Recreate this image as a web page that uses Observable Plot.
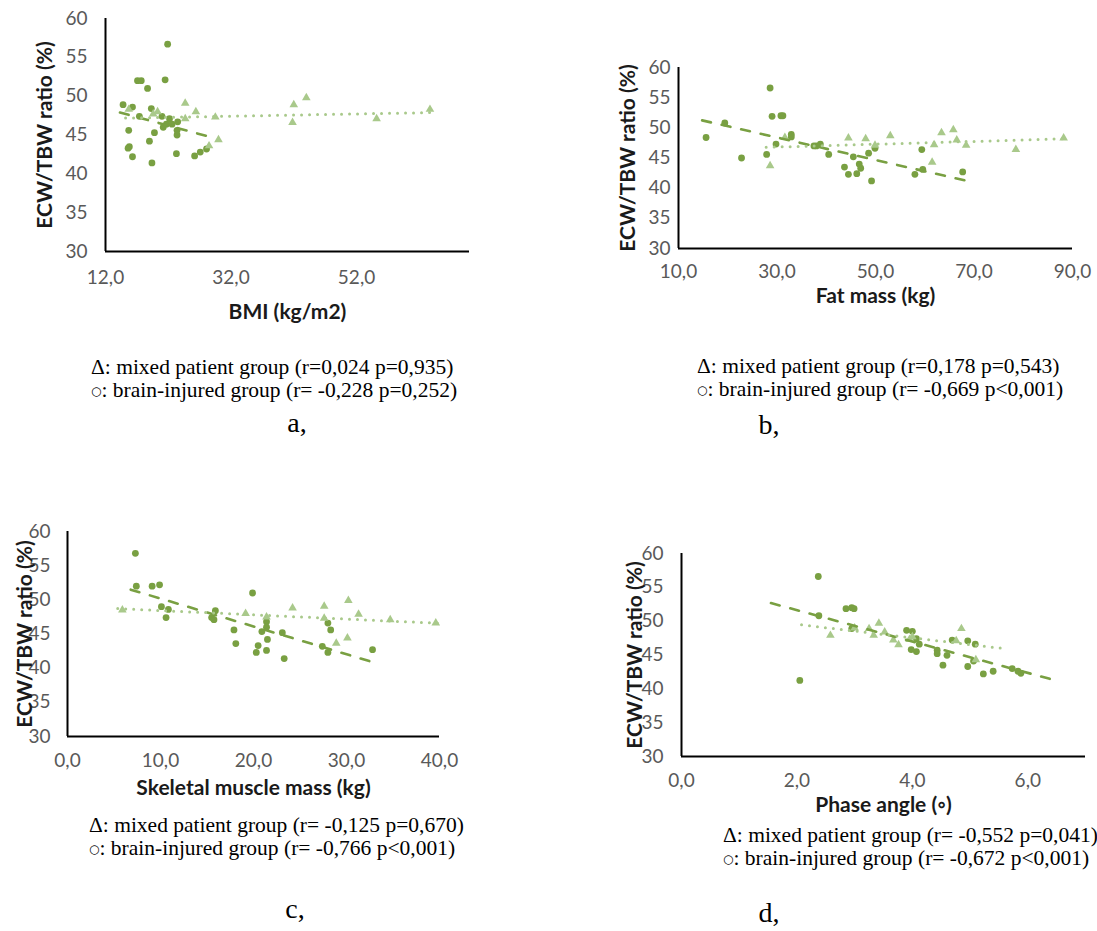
<!DOCTYPE html>
<html><head><meta charset="utf-8">
<script src="https://cdn.jsdelivr.net/npm/d3@7"></script>
<script src="https://cdn.jsdelivr.net/npm/@observablehq/plot@0.6"></script>
<style>
body{margin:0;background:#fff;}
#root{position:relative;width:1097px;height:931px;overflow:hidden;background:#fff;}
.panel{position:absolute;}
.cap{position:absolute;font-family:"Liberation Serif","Times New Roman",serif;font-size:21.5px;line-height:23px;color:#000;white-space:nowrap;}
.circ{font-family:"DejaVu Sans",sans-serif;font-size:12px;position:relative;top:-2px;}
.lab{position:absolute;font-family:"Liberation Serif","Times New Roman",serif;font-size:28px;line-height:1;color:#000;transform:translate(-50%,-50%);}
</style></head><body><div id="root"></div>
<script>
// ---------- data ----------
const yTicks = [30, 35, 40, 45, 50, 55, 60];
const yTitle = "ECW/TBW ratio (%)";

// a: BMI
const aTicks = [12, 32, 52];
const aBrainX = [14.8,16.3,19.3,21.9,21.5,17.1,17.7,18.7,17.4,15.7,15.8,15.6,16.3,19.0,19.8,19.4,21.0,21.2,21.7,22.2,22.6,23.5,23.4,23.4,23.3,26.2,27.1,28.1];
const aBrainY = [48.9,48.6,48.4,56.7,52.1,52.0,52.0,51.0,47.4,45.6,43.5,43.3,42.2,44.2,45.3,41.4,47.4,46.0,46.4,47.1,46.4,46.7,45.6,45.0,42.6,42.3,42.8,43.2];
const aMixedX = [15.7,19.6,20.3,24.7,24.7,26.4,29.5,28.5,30.0,42.0,44.0,41.8,55.2,63.7];
const aMixedY = [48.3,47.7,48.0,49.1,47.1,48.0,47.3,43.6,44.4,48.9,49.8,46.6,47.1,48.3];

// b: Fat mass
const bTicks = [10, 30, 50, 70, 90];
const bBrainX = [15.6,19.4,22.8,28.6,29.0,30.8,31.2,27.9,29.8,32.9,32.9,37.5,38.0,38.8,40.5,43.7,44.5,45.5,46.2,46.7,47.0,48.6,49.2,49.9,58.0,59.4,59.6,67.7];
const bBrainY = [48.4,50.8,45.0,56.6,51.9,52.0,52.0,45.6,47.3,48.9,48.5,47.0,47.0,47.3,45.6,43.5,42.3,45.2,42.4,44.0,43.3,45.8,41.2,46.6,42.3,46.4,43.1,42.7];
const bMixedX = [28.6,31.6,44.5,48.0,49.9,53.0,61.5,61.9,63.4,65.8,66.5,68.4,78.5,88.2];
const bMixedY = [43.7,48.4,48.3,48.2,47.1,48.7,44.3,47.2,49.2,49.7,48.0,47.1,46.4,48.3];

// c: Skeletal muscle mass
const cTicks = [0, 10, 20, 30, 40];
const cBrainX = [7.3,7.4,9.1,9.9,10.1,10.85,10.6,15.5,15.75,15.9,17.9,18.1,19.9,20.3,20.5,20.9,21.4,21.4,21.5,21.4,23.1,23.3,27.4,28.0,28.3,28.0,32.8];
const cBrainY = [56.8,52.0,52.0,52.2,49.0,48.6,47.4,47.4,47.1,48.4,45.6,43.6,51.0,42.3,43.3,45.35,46.8,46.0,44.2,42.6,45.2,41.4,43.2,46.6,45.6,42.3,42.7];
const cMixedX = [5.9,19.15,21.4,24.2,27.6,27.6,28.9,30.2,30.1,31.3,34.7,39.6];
const cMixedY = [48.5,48.0,47.5,48.8,49.05,47.3,43.65,49.9,44.4,47.9,47.1,46.6];

// d: Phase angle
const dTicks = [0, 2, 4, 6];
const dBrainX = [2.05,2.37,2.38,2.85,2.95,2.99,2.95,3.9,4.0,4.07,4.12,3.98,4.07,4.43,4.43,4.53,4.6,4.69,4.96,4.96,5.06,5.09,5.23,5.4,5.73,5.83,5.88];
const dBrainY = [41.25,56.6,50.8,51.85,52.0,51.85,48.9,48.65,48.5,47.4,46.6,45.8,45.5,45.7,45.2,43.5,44.95,47.2,47.1,43.3,44.1,46.6,42.2,42.6,43.0,42.6,42.3];
const dMixedX = [2.58,3.0,3.25,3.33,3.42,3.52,3.67,3.76,3.95,4.0,4.76,4.85,5.1];
const dMixedY = [47.9,49.0,48.9,47.9,49.7,48.4,47.2,46.5,47.3,47.7,47.1,48.9,44.3];

// ---------- styles ----------
const C_BRAIN = "#79A042";
const C_MIXED = "#A9C98B";
const fmtX = d => d3.format(".1f")(d).replace(".", ",");

function pts(xs, ys) { return xs.map((x, i) => ({x, y: ys[i]})); }
function trend(xs, ys, ext) {
  const mx = d3.mean(xs), my = d3.mean(ys);
  let sxy = 0, sxx = 0;
  xs.forEach((x, i) => { sxy += (x - mx) * (ys[i] - my); sxx += (x - mx) * (x - mx); });
  const b = sxy / sxx, a = my - b * mx;
  const [x0, x1] = d3.extent(xs);
  return [x0 - ext, x1 + ext].map(x => ({x, y: a + b * x}));
}

function panel(o) {
  const p = Plot.plot({
    width: o.width, height: o.height,
    marginLeft: o.ml, marginTop: o.mt, marginRight: o.mr, marginBottom: o.mb,
    style: {fontFamily: "Lato, sans-serif", fontSize: "19px", background: "transparent", overflow: "visible"},
    x: {domain: o.xDomain, label: null},
    y: {domain: [30, 60], label: null},
    marks: [
      Plot.axisY({ticks: yTicks, tickSize: 0, tickPadding: o.yPad, color: "#595959", label: null, fontSize: 19}),
      Plot.axisX({ticks: o.xTicks, tickSize: 0, tickPadding: o.xPad, tickFormat: fmtX, color: "#595959", label: null, fontSize: 19}),
      Plot.dot(pts(o.bx, o.by), {x: "x", y: "y", r: 3.4, fill: C_BRAIN}),
      Plot.dot(pts(o.mx, o.my), {x: "x", y: "y", r: 3.2, symbol: "triangle", fill: C_MIXED}),
      Plot.line(trend(o.bx, o.by, o.ext), {x: "x", y: "y", stroke: C_BRAIN, strokeWidth: 2.6, strokeDasharray: "9,11", strokeLinecap: "round"}),
      Plot.line(trend(o.mx, o.my, o.ext), {x: "x", y: "y", stroke: C_MIXED, strokeWidth: 3, strokeDasharray: "0,8", strokeLinecap: "round"}),
      Plot.ruleX([o.xDomain[0]], {stroke: "#000", strokeWidth: 2}),
      Plot.ruleY([30], {stroke: "#000", strokeWidth: 2}),
      Plot.text([yTitle], {frameAnchor: "left", dx: o.yTitleDx, rotate: -90, textAnchor: "middle", lineAnchor: "middle", fontWeight: "bold", fontSize: 21, fill: "#1a1a1a"}),
      Plot.text([o.xTitle], {frameAnchor: "bottom", dy: o.xTitleDy, textAnchor: "middle", lineAnchor: "middle", fontWeight: "bold", fontSize: 21, fill: "#1a1a1a"})
    ]
  });
  p.classList.add("panel");
  p.style.left = o.left + "px";
  p.style.top = o.top + "px";
  document.getElementById("root").appendChild(p);
}

panel({left: 0, top: 0, width: 490, height: 330, ml: 105, mt: 18, mr: 21, mb: 79,
  xDomain: [12, 70], xTicks: aTicks, bx: aBrainX, by: aBrainY, mx: aMixedX, my: aMixedY, ext: 0.5,
  yPad: 18, xPad: 19, yTitleDx: -60, xTitle: "BMI (kg/m2)", xTitleDy: 61});
panel({left: 600, top: 40, width: 497, height: 280, ml: 78, mt: 27, mr: 25, mb: 72,
  xDomain: [10, 90], xTicks: bTicks, bx: bBrainX, by: bBrainY, mx: bMixedX, my: bMixedY, ext: 0.8,
  yPad: 8, xPad: 16, yTitleDx: -50, xTitle: "Fat mass (kg)", xTitleDy: 48});
panel({left: 0, top: 500, width: 490, height: 310, ml: 67, mt: 31, mr: 51, mb: 74,
  xDomain: [0, 40], xTicks: cTicks, bx: cBrainX, by: cBrainY, mx: cMixedX, my: cMixedY, ext: 0.5,
  yPad: 17, xPad: 17, yTitleDx: -42, xTitle: "Skeletal muscle mass (kg)", xTitleDy: 52});
panel({left: 600, top: 520, width: 497, height: 300, ml: 81, mt: 33, mr: 12, mb: 64,
  xDomain: [0, 7], xTicks: dTicks, bx: dBrainX, by: dBrainY, mx: dMixedX, my: dMixedY, ext: 0.5,
  yPad: 18, xPad: 17, yTitleDx: -46, xTitle: "Phase angle (\u25E6)", xTitleDy: 49});

// ---------- captions ----------
const captions = [
  {left: 91, top: 355.5, l1: "\u0394: mixed patient group (r=0,024 p=0,935)", l2: "brain-injured group (r= -0,228 p=0,252)", tag: "a,", tx: 297, ty: 423},
  {left: 697, top: 354.5, l1: "\u0394: mixed patient group (r=0,178 p=0,543)", l2: "brain-injured group (r= -0,669 p<0,001)", tag: "b,", tx: 769, ty: 425},
  {left: 89, top: 813.5, l1: "\u0394: mixed patient group (r= -0,125 p=0,670)", l2: "brain-injured group (r= -0,766 p<0,001)", tag: "c,", tx: 295, ty: 909},
  {left: 723, top: 823.5, l1: "\u0394: mixed patient group (r= -0,552 p=0,041)", l2: "brain-injured group (r= -0,672 p<0,001)", tag: "d,", tx: 769, ty: 913}
];
const root = document.getElementById("root");
captions.forEach(c => {
  const d = document.createElement("div");
  d.className = "cap";
  d.style.left = c.left + "px";
  d.style.top = c.top + "px";
  const line1 = document.createElement("div");
  line1.textContent = c.l1;
  const line2 = document.createElement("div");
  const s = document.createElement("span");
  s.className = "circ";
  s.textContent = "\u25CB";
  line2.appendChild(s);
  line2.appendChild(document.createTextNode(": " + c.l2));
  d.appendChild(line1); d.appendChild(line2);
  root.appendChild(d);
  const t = document.createElement("div");
  t.className = "lab";
  t.style.left = c.tx + "px";
  t.style.top = c.ty + "px";
  t.textContent = c.tag;
  root.appendChild(t);
});
</script>
</body></html>
